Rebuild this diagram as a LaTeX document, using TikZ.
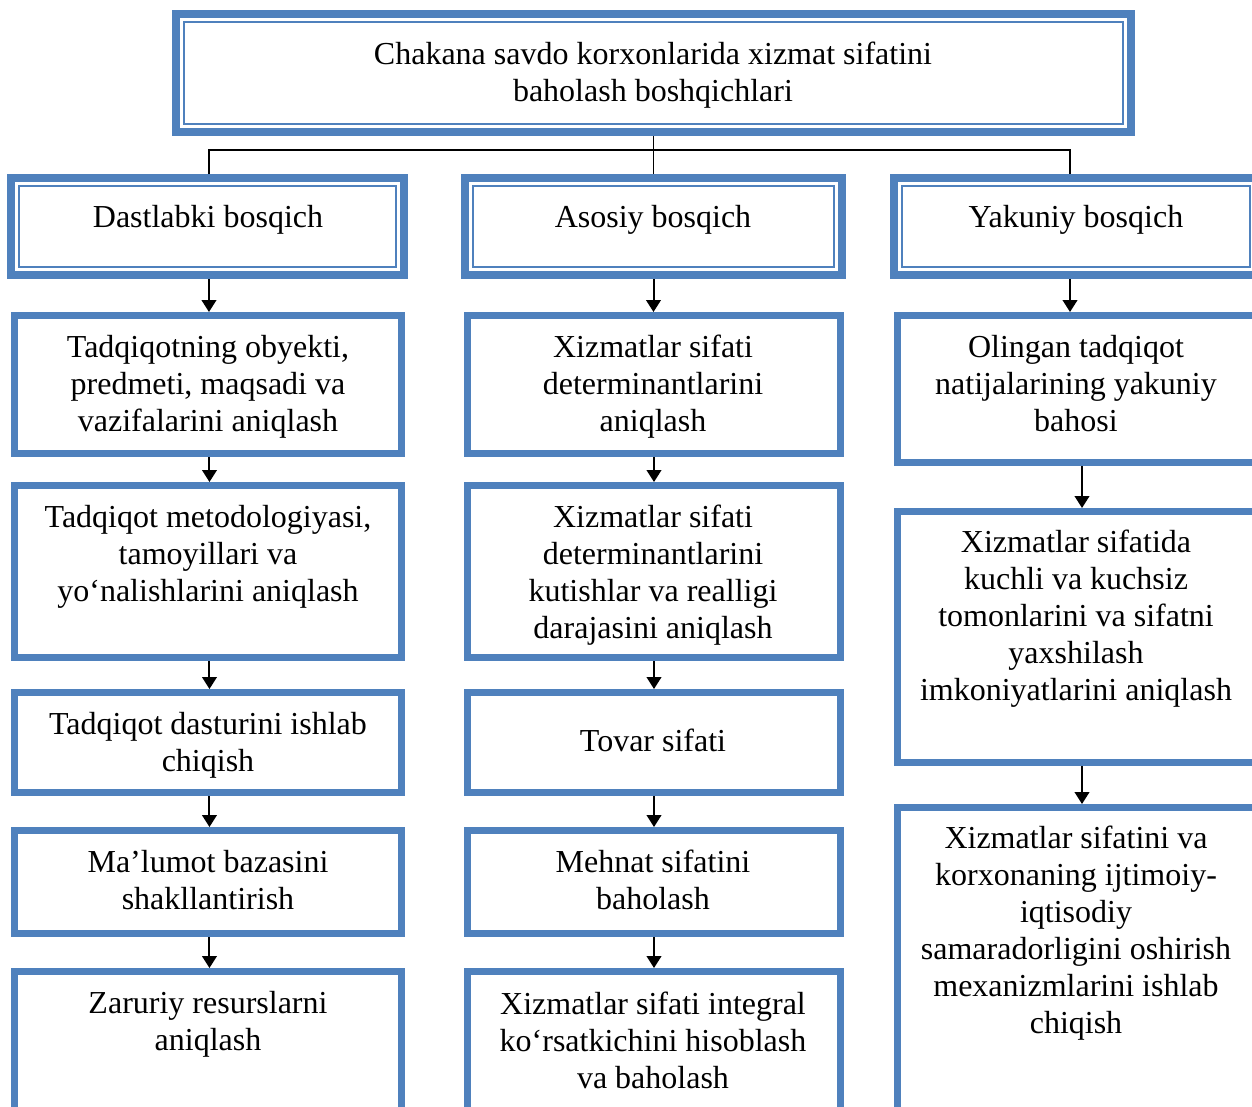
\documentclass[tikz,border=0pt]{standalone}
\usepackage{fontspec}
\setmainfont{Liberation Serif}
\usetikzlibrary{fit,arrows.meta}
\definecolor{bblue}{HTML}{4F81BD}
\begin{document}
\begin{tikzpicture}[x=0.75pt,y=-0.75pt,
  hbox/.style={draw=bblue,line width=6pt,inner sep=0pt,outer sep=3pt},
  rbox/.style={draw=bblue,line width=5.25pt,inner sep=0pt,outer sep=2.625pt},
  innerline/.style={draw=bblue,line width=1.6pt},
  txt/.style={align=center,font=\fontsize{24pt}{27.75pt}\selectfont,inner sep=0pt},
  arr/.style={draw=black,line width=1.5pt,-{Triangle[width=11pt,length=9pt]}},
  conn/.style={draw=black,line width=1.4pt}]
\useasboundingbox (0,0) rectangle (1252,1106);
\clip (0,0) rectangle (1252,1106);
% top box
\node[hbox, fit={(176,14) (1131,132)}] (T) {};
\draw[innerline] ([xshift=9pt,yshift=9pt]T.south west) rectangle ([xshift=-9pt,yshift=-9pt]T.north east);
\node[txt] (tT) at (653,75) {Chakana savdo korxonlarida xizmat sifatini\\baholash boshqichlari};
% header boxes
\node[hbox, fit={(11,178) (404,275)}] (D) {};
\draw[innerline] ([xshift=9pt,yshift=9pt]D.south west) rectangle ([xshift=-9pt,yshift=-9pt]D.north east);
\node[hbox, fit={(465,178) (842,275)}] (A) {};
\draw[innerline] ([xshift=9pt,yshift=9pt]A.south west) rectangle ([xshift=-9pt,yshift=-9pt]A.north east);
\node[hbox, fit={(894,178) (1258,275)}] (Y) {};
\draw[innerline] ([xshift=9pt,yshift=9pt]Y.south west) rectangle ([xshift=-9pt,yshift=-9pt]Y.north east);
\node[txt] (tD) at (208,220) {Dastlabki bosqich};
\node[txt] (tA) at (653,220) {Asosiy bosqich};
\node[txt] (tY) at (1076,220) {Yakuniy bosqich};
% connectors from top
\coordinate (J) at ([yshift=-10.5pt]T.south);
\draw[conn] (T.south) -- (J);
\draw[conn] ([xshift=1.1pt]D.north) |- (J);
\draw[conn] (J) -| ([xshift=-4.5pt]Y.north);
\draw[conn] (J) -- (J |- A.north);
% left column
\node[rbox, fit={(14.5,315.5) (401.5,453.5)}] (L1) {};
\node[rbox, fit={(14.5,485.5) (401.5,657.5)}] (L2) {};
\node[rbox, fit={(14.5,692.5) (401.5,792.5)}] (L3) {};
\node[rbox, fit={(14.5,830.5) (401.5,933.5)}] (L4) {};
\node[rbox, fit={(14.5,971.5) (401.5,1126.5)}] (L5) {};
\node[txt] (tL1) at (208,387) {Tadqiqotning obyekti,\\predmeti, maqsadi va\\vazifalarini aniqlash};
\node[txt] (tL2) at (208,557) {Tadqiqot metodologiyasi,\\tamoyillari va\\yo‘nalishlarini aniqlash};
\node[txt] (tL3) at (208,745) {Tadqiqot dasturini ishlab\\chiqish};
\node[txt] (tL4) at (208,880) {Ma’lumot bazasini\\shakllantirish};
\node[txt] (tL5) at (208,1024) {Zaruriy resurslarni\\aniqlash};
% middle column
\node[rbox, fit={(467.5,315.5) (840.5,453.5)}] (M1) {};
\node[rbox, fit={(467.5,485.5) (840.5,657.5)}] (M2) {};
\node[rbox, fit={(467.5,692.5) (840.5,792.5)}] (M3) {};
\node[rbox, fit={(467.5,830.5) (840.5,933.5)}] (M4) {};
\node[rbox, fit={(467.5,971.5) (840.5,1126.5)}] (M5) {};
\node[txt] (tM1) at (653,387) {Xizmatlar sifati\\determinantlarini\\aniqlash};
\node[txt] (tM2) at (653,575) {Xizmatlar sifati\\determinantlarini\\kutishlar va realligi\\darajasini aniqlash};
\node[txt] (tM3) at (653,740) {Tovar sifati};
\node[txt] (tM4) at (653,880) {Mehnat sifatini\\baholash};
\node[txt] (tM5) at (653,1040) {Xizmatlar sifati integral\\ko‘rsatkichini hisoblash\\va baholash};
% right column
\node[rbox, fit={(897.5,315.5) (1266.5,462.5)}] (R1) {};
\node[rbox, fit={(897.5,511.5) (1266.5,762.5)}] (R2) {};
\node[rbox, fit={(897.5,807.5) (1266.5,1126.5)}] (R3) {};
\node[txt] (tR1) at (1076,384) {Olingan tadqiqot\\natijalarining yakuniy\\bahosi};
\node[txt] (tR2) at (1076,619) {Xizmatlar sifatida\\kuchli va kuchsiz\\tomonlarini va sifatni\\yaxshilash\\imkoniyatlarini aniqlash};
\node[txt] (tR3) at (1076,933) {Xizmatlar sifatini va\\korxonaning ijtimoiy-\\iqtisodiy\\samaradorligini oshirish\\mexanizmlarini ishlab\\chiqish};
% arrows
\draw[arr] ([xshift=1.1pt]D.south) -- ([xshift=1.1pt]D.south |- L1.north);
\draw[arr] ([xshift=1.1pt]L1.south) -- ([xshift=1.1pt]L2.north);
\draw[arr] ([xshift=1.1pt]L2.south) -- ([xshift=1.1pt]L3.north);
\draw[arr] ([xshift=1.1pt]L3.south) -- ([xshift=1.1pt]L4.north);
\draw[arr] ([xshift=1.1pt]L4.south) -- ([xshift=1.1pt]L5.north);
\draw[arr] (A.south) -- (A.south |- M1.north);
\draw[arr] (M1.south) -- (M2.north);
\draw[arr] (M2.south) -- (M3.north);
\draw[arr] (M3.south) -- (M4.north);
\draw[arr] (M4.south) -- (M5.north);
\draw[arr] ([xshift=-4.5pt]Y.south) -- ([xshift=-4.5pt]Y.south |- R1.north);
\draw[arr] (R1.south) -- (R2.north);
\draw[arr] (R2.south) -- (R3.north);
\end{tikzpicture}
\end{document}
